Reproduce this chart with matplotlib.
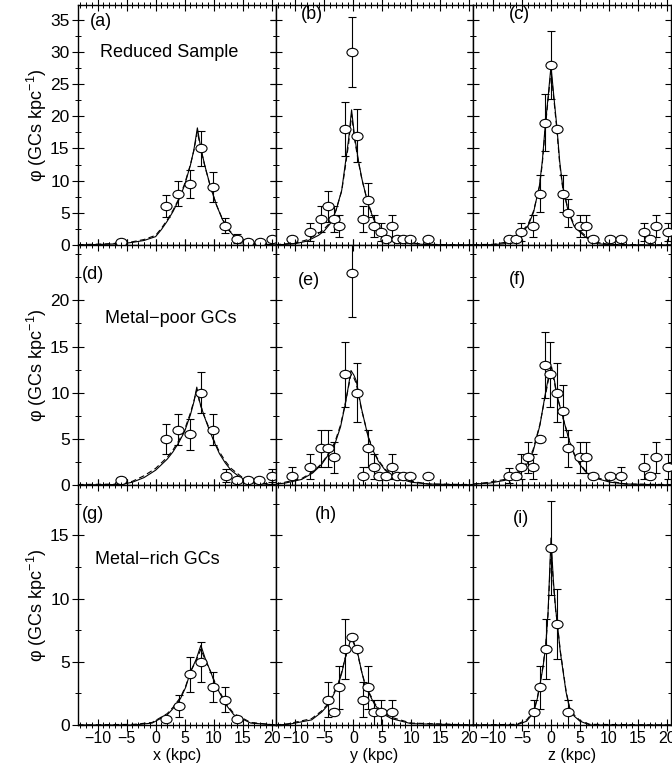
import numpy as np
import matplotlib.pyplot as plt
from matplotlib.ticker import MultipleLocator
from matplotlib.path import Path
from matplotlib.transforms import Affine2D

plt.rcParams['font.family'] = ['Liberation Sans', 'DejaVu Sans']
plt.rcParams['mathtext.default'] = 'regular'

# ---- data points (bin centre, density, error) ----
ax_pts = [-6.0, 1.8, 3.9, 5.9, 7.9, 9.9, 11.9, 14.0, 16.0, 18.0, 20.0]
ay_pts = [0.5, 6.0, 8.0, 9.5, 15.0, 9.0, 3.0, 1.0, 0.5, 0.5, 1.0]
ae_pts = [0.0, 1.7, 2.0, 2.2, 2.7, 2.3, 1.2, 0.7, 0.0, 0.0, 0.0]

bx_pts = [-10.5, -7.5, -5.5, -4.4, -3.3, -2.4, -1.4, -0.3, 0.6, 1.7, 2.6, 3.6, 4.8, 5.6, 6.6, 7.5, 8.6, 9.8, 12.8]
by_pts = [1, 2, 4, 6, 4, 3, 18, 30, 17, 4, 7, 3, 2, 1, 3, 1, 1, 1, 1]
be_pts = [0, 1.4, 2.0, 2.4, 2.0, 1.7, 4.2, 5.5, 4.1, 2.0, 2.6, 1.7, 1.4, 0, 1.7, 0, 0, 0, 0]

cx_pts = [-7.2, -6.1, -5.2, -3.1, -1.9, -1.0, 0.0, 1.0, 2.0, 3.0, 5.0, 6.0, 7.2, 10.1, 12.1, 16.0, 17.1, 18.1, 20.2]
cy_pts = [1, 1, 2, 3, 8, 19, 28, 18, 8, 5, 3, 3, 1, 1, 1, 2, 1, 3, 2]
ce_pts = [0, 0, 1.4, 1.7, 2.8, 4.4, 5.3, 0, 2.8, 2.2, 1.7, 1.7, 0, 0, 0, 1.4, 0, 1.7, 1.4]

dx_pts = [-6.0, 1.8, 3.9, 5.9, 7.9, 9.9, 12.1, 14.0, 16.0, 17.8, 20.0]
dy_pts = [0.5, 5.0, 6.0, 5.5, 10.0, 6.0, 1.0, 0.5, 0.5, 0.5, 1.0]
de_pts = [0, 1.6, 1.7, 1.7, 2.2, 1.7, 0.7, 0, 0, 0, 0.7]

ex_pts = [-10.5, -7.5, -5.5, -4.4, -3.3, -1.4, -0.3, 0.6, 1.7, 2.6, 3.6, 4.5, 5.6, 6.6, 7.6, 8.6, 9.8, 12.8]
ey_pts = [1, 2, 4, 4, 3, 12, 23, 10, 1, 4, 2, 1, 1, 2, 1, 1, 1, 1]
ee_pts = [1.0, 1.4, 2.0, 2.0, 1.7, 3.5, 4.8, 3.2, 1.0, 2.0, 1.4, 0, 0, 1.4, 0, 0, 0, 0]

fx_pts = [-7.2, -6.1, -5.2, -4.0, -3.1, -1.9, -1.0, -0.2, 1.0, 2.1, 3.0, 5.0, 6.0, 7.2, 10.1, 12.1, 16.0, 17.1, 18.1, 20.2]
fy_pts = [1, 1, 2, 3, 2, 5, 13, 12, 10, 8, 4, 3, 3, 1, 1, 1, 2, 1, 3, 2]
fe_pts = [0.8, 0, 1.4, 1.7, 1.4, 0, 3.6, 3.5, 3.2, 2.8, 2.0, 1.7, 1.7, 0, 0, 1.0, 1.4, 0, 1.7, 1.4]

gx_pts = [1.8, 4.0, 5.9, 7.9, 9.9, 11.9, 14.1]
gy_pts = [0.5, 1.5, 4.0, 5.0, 3.0, 2.0, 0.5]
ge_pts = [0, 0.9, 1.4, 1.6, 1.2, 1.0, 0]

hx_pts = [-4.4, -3.3, -2.5, -1.4, -0.3, 0.6, 1.7, 2.6, 3.6, 4.8, 6.6]
hy_pts = [2, 1, 3, 6, 7, 6, 2, 3, 1, 1, 1]
he_pts = [1.4, 0, 1.7, 2.4, 0, 0, 1.4, 1.7, 1.0, 1.0, 1.0]

ix_pts = [-2.9, -1.9, -0.9, 0.0, 1.0, 3.0]
iy_pts = [1, 3, 6, 14, 8, 1]
ie_pts = [1.0, 1.7, 2.4, 3.7, 2.8, 1.0]

# ---- model curves (solid and dashed) ----
a_cx = [-13.4, -9, -6, -4, -2, 0, 1, 2, 3, 4, 5, 6, 6.6, 7.2, 7.8, 8.5, 9.5, 10.5, 11.5, 12.5, 14, 16, 18, 20.7]
a_sol = [0.0, 0.1, 0.2, 0.4, 0.7, 1.3, 2.4, 3.7, 5.2, 7.0, 9.3, 12.4, 14.8, 18.2, 15.0, 12.3, 8.9, 6.2, 4.0, 2.4, 0.9, 0.3, 0.1, 0.0]
a_dsh = [0.05, 0.15, 0.3, 0.5, 0.85, 1.5, 2.6, 3.9, 5.4, 7.2, 9.5, 12.5, 14.7, 17.6, 14.9, 12.2, 8.9, 6.2, 4.1, 2.5, 1.0, 0.35, 0.15, 0.05]

b_cx = [-13.4, -10, -8, -6, -5, -4, -3, -2, -1.4, -0.8, -0.3, 0.2, 0.9, 1.5, 2.5, 3.5, 4.5, 6, 8, 10, 13, 20.7]
b_sol = [0.0, 0.2, 0.6, 1.5, 2.2, 3.3, 5.3, 8.5, 12.5, 16.5, 21.0, 17.0, 13.0, 10.2, 6.5, 4.0, 2.5, 1.2, 0.5, 0.2, 0.05, 0.0]
b_dsh = [0.05, 0.3, 0.8, 1.8, 2.5, 3.5, 5.4, 8.4, 12.0, 15.8, 20.3, 16.5, 12.8, 10.1, 6.6, 4.2, 2.7, 1.4, 0.6, 0.3, 0.1, 0.0]

c_cx = [-13.4, -10, -8, -6, -5, -4, -3, -2, -1.5, -1, -0.5, 0, 0.5, 1, 1.5, 2, 3, 4, 5, 6, 8, 10, 13, 20.7]
c_sol = [0.0, 0.05, 0.2, 1.2, 2.0, 2.9, 5.1, 9.2, 13.0, 18.5, 23.0, 27.8, 23.0, 18.5, 13.0, 9.2, 5.1, 2.9, 2.0, 1.2, 0.2, 0.05, 0.0, 0.0]
c_dsh = [0.05, 0.1, 0.4, 1.4, 2.2, 3.1, 5.3, 9.0, 12.6, 18.0, 22.6, 27.0, 22.6, 18.0, 12.6, 9.0, 5.3, 3.1, 2.2, 1.4, 0.4, 0.1, 0.05, 0.0]

d_cx = [-13.4, -6, -4, -2, 0, 2, 3, 4, 5, 6, 6.6, 7.1, 7.6, 8.3, 9, 10, 11, 12, 13, 15, 17, 20.7]
d_sol = [0.0, 0.05, 0.3, 0.8, 1.6, 2.8, 3.6, 4.6, 5.8, 7.6, 9.0, 10.6, 9.0, 7.6, 6.4, 4.8, 3.4, 2.4, 1.6, 0.6, 0.2, 0.0]
d_dsh = [0.05, 0.1, 0.4, 1.0, 1.8, 3.0, 3.8, 4.8, 6.0, 7.8, 9.1, 10.3, 8.9, 7.6, 6.5, 4.9, 3.6, 2.6, 1.8, 0.8, 0.3, 0.05]

e_cx = [-13.4, -11.8, -8.9, -7, -5.5, -4.5, -3.2, -2.2, -1.4, -0.9, -0.4, 0.1, 0.5, 1.4, 2.6, 3.5, 4.3, 5.5, 7.2, 10, 13, 20.7]
e_sol = [0.1, 0.2, 0.6, 1.3, 2.2, 3.1, 4.4, 6.3, 8.7, 10.5, 12.4, 11.9, 11.3, 8.3, 5.1, 3.6, 2.6, 1.6, 0.8, 0.3, 0.1, 0.0]
e_dsh = [0.1, 0.3, 0.7, 1.4, 2.3, 3.2, 4.6, 6.5, 8.8, 10.4, 12.0, 11.6, 11.0, 8.2, 5.2, 3.7, 2.7, 1.7, 0.9, 0.4, 0.1, 0.05]

f_cx = [-13.4, -10.6, -8, -6.5, -5, -4.2, -3.1, -1.9, -1.0, -0.4, 0.1, 0.6, 1.0, 2.1, 3.2, 4, 5.0, 6, 7.3, 10.2, 13, 20.7]
f_sol = [0.1, 0.2, 0.5, 0.8, 1.6, 2.2, 3.6, 6.5, 9.8, 11.8, 12.8, 11.3, 9.8, 7.2, 4.7, 3.3, 2.2, 1.4, 0.8, 0.3, 0.1, 0.0]
f_dsh = [0.1, 0.3, 0.6, 1.0, 1.8, 2.4, 3.8, 6.6, 9.6, 11.5, 12.4, 11.1, 9.7, 7.2, 4.8, 3.4, 2.3, 1.5, 0.9, 0.4, 0.1, 0.05]

g_cx = [-13.4, -3.7, -0.6, 2.0, 3, 4.3, 5.2, 6.0, 7.0, 7.8, 8.6, 9.5, 10.3, 11.2, 12.3, 13.5, 16.4, 20.7]
g_sol = [0.0, 0.0, 0.15, 0.8, 1.3, 2.1, 3.0, 4.2, 5.2, 6.3, 5.2, 4.2, 3.2, 2.4, 1.5, 0.8, 0.15, 0.0]
g_dsh = [0.0, 0.05, 0.2, 0.9, 1.4, 2.2, 3.1, 4.2, 5.1, 6.0, 5.1, 4.2, 3.3, 2.5, 1.6, 0.9, 0.2, 0.0]

h_cx = [-13.4, -11.2, -7.2, -5.5, -4.3, -3.4, -2.6, -2.0, -1.4, -0.8, -0.3, 0.2, 0.8, 1.4, 2.0, 2.8, 3.7, 5, 6.6, 10, 20.7]
h_sol = [0.0, 0.05, 0.4, 1.0, 1.6, 2.4, 3.2, 4.1, 5.3, 6.2, 7.1, 6.4, 5.6, 4.3, 3.2, 2.4, 1.6, 0.9, 0.5, 0.1, 0.0]
h_dsh = [0.0, 0.1, 0.5, 1.1, 1.7, 2.5, 3.3, 4.2, 5.3, 6.1, 6.9, 6.3, 5.5, 4.3, 3.3, 2.5, 1.7, 1.0, 0.6, 0.15, 0.0]

i_cx = [-13.4, -5.9, -4.2, -3.3, -2.8, -2.3, -1.9, -1.4, -0.9, -0.5, 0, 0.4, 0.8, 1.1, 1.6, 2.1, 2.6, 3.2, 4, 5.0, 6.7, 20.7]
i_sol = [0.0, 0.0, 0.3, 0.8, 1.3, 2.2, 3.2, 4.5, 6.3, 9.0, 14.8, 11.5, 9.2, 8.0, 5.8, 4.2, 2.6, 1.3, 0.7, 0.3, 0.0, 0.0]
i_dsh = [0.0, 0.05, 0.4, 0.9, 1.4, 2.3, 3.3, 4.6, 6.4, 8.8, 14.2, 11.2, 9.1, 8.0, 5.9, 4.3, 2.7, 1.4, 0.8, 0.35, 0.05, 0.0]

panel_tags = ['(a)', '(b)', '(c)', '(d)', '(e)', '(f)', '(g)', '(h)', '(i)']
row_names = ['Reduced Sample', 'Metal\u2212poor GCs', 'Metal\u2212rich GCs']
x_labels = ['x (kpc)', 'y (kpc)', 'z (kpc)']
row_ylim = [37.3, 26.0, 19.0]
row_yticks = [[0, 5, 10, 15, 20, 25, 30, 35], [0, 5, 10, 15, 20], [0, 5, 10, 15]]

points = [(ax_pts, ay_pts, ae_pts), (bx_pts, by_pts, be_pts), (cx_pts, cy_pts, ce_pts),
          (dx_pts, dy_pts, de_pts), (ex_pts, ey_pts, ee_pts), (fx_pts, fy_pts, fe_pts),
          (gx_pts, gy_pts, ge_pts), (hx_pts, hy_pts, he_pts), (ix_pts, iy_pts, ie_pts)]
curves = [(a_cx, a_sol, a_dsh), (b_cx, b_sol, b_dsh), (c_cx, c_sol, c_dsh),
          (d_cx, d_sol, d_dsh), (e_cx, e_sol, e_dsh), (f_cx, f_sol, f_dsh),
          (g_cx, g_sol, g_dsh), (h_cx, h_sol, h_dsh), (i_cx, i_sol, i_dsh)]

# where the panel tags sit (axes fraction)
tag_pos = [(0.06, 0.93), (0.13, 0.96), (0.18, 0.96),
           (0.02, 0.875), (0.11, 0.85), (0.18, 0.855),
           (0.02, 0.875), (0.20, 0.875), (0.20, 0.86)]
name_pos = [(0.11, 0.80), (0.137, 0.693), (0.087, 0.689)]

# slightly flattened open circle, as in the scan
ell = Path.unit_circle().transformed(Affine2D().scale(1.0, 0.75))

fig, axes = plt.subplots(3, 3, figsize=(6.72, 7.67), dpi=100)
fig.subplots_adjust(left=0.116, right=0.9985, bottom=0.0548, top=0.9935, hspace=0, wspace=0)

for k in range(9):
    r, c = k // 3, k % 3
    ax = axes[r, c]
    px, py, pe = points[k]
    cx, cs, cd = curves[k]
    ax.plot(cx, cs, 'k-', lw=0.8, zorder=1)
    ax.plot(cx, cd, 'k', ls=(0, (5, 3)), lw=0.8, zorder=1)
    ax.errorbar(px, py, yerr=pe, fmt='none', ecolor='k', elinewidth=0.8,
                capsize=3, capthick=0.8, zorder=2)
    ax.plot(px, py, ls='none', marker=ell, ms=8, mfc='white', mec='k', mew=0.8, zorder=3)

    ax.set_xlim(-13.4, 20.7)
    ax.set_ylim(0, row_ylim[r])
    ax.set_xticks([-10, -5, 0, 5, 10, 15, 20])
    ax.xaxis.set_minor_locator(MultipleLocator(1))
    ax.set_yticks(row_yticks[r])
    ax.yaxis.set_minor_locator(MultipleLocator(2.5))
    ax.tick_params(which='both', direction='inout', top=True, right=True, labelsize=12.5)
    ax.tick_params(which='major', length=8, width=0.8)
    ax.tick_params(which='minor', length=4, width=0.7)
    ax.tick_params(axis='x', labelsize=11.5, pad=0)
    ax.tick_params(axis='y', pad=2)
    for s in ax.spines.values():
        s.set_linewidth(1.0)
    if c > 0:
        ax.set_yticklabels([])
    else:
        ax.set_ylabel('\u03c6 (GCs kpc$^{-1}$)', fontsize=13, labelpad=1)
    if r < 2:
        ax.set_xticklabels([])
    else:
        ax.set_xticklabels(['\u221210', '\u22125', '0', '5', '10', '15', '20'])
        ax.set_xlabel(x_labels[c], fontsize=11.5)
        ax.xaxis.set_label_coords(0.5, -0.098)
    ax.text(tag_pos[k][0], tag_pos[k][1], panel_tags[k], transform=ax.transAxes,
            fontsize=13, ha='left', va='center')
    if c == 0:
        ax.text(name_pos[r][0], name_pos[r][1], row_names[r], transform=ax.transAxes,
                fontsize=13, ha='left', va='center')

plt.savefig('out.png', dpi=100)
